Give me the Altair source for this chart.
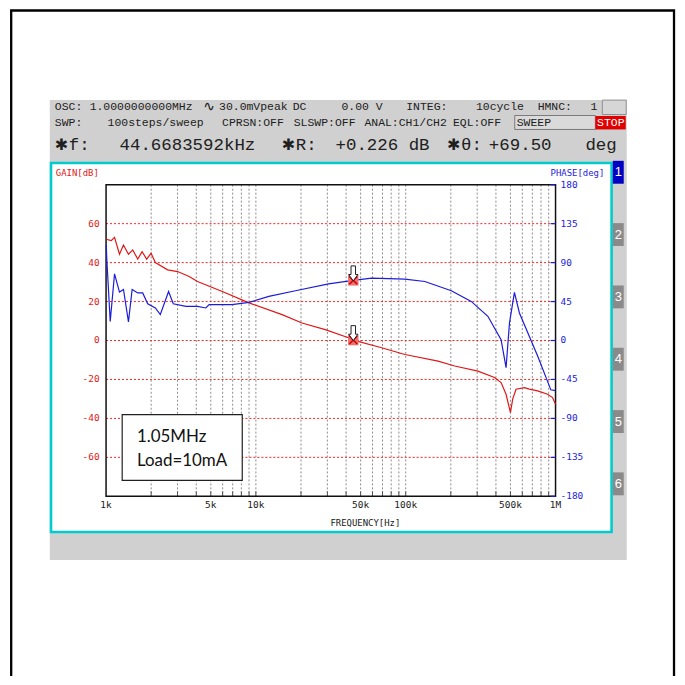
import altair as alt
import pandas as pd

# ---------------- data ----------------
gain_freq = [1003, 1083, 1139, 1229, 1307, 1411, 1507, 1627, 1740, 1866, 1997, 2133,
             2575, 3000, 3587, 4074, 5972, 8985, 14960, 20300, 29050, 41500, 44668,
             69060, 98790, 164400, 212300, 303200, 391500, 433000, 467500, 500000,
             518000, 544800, 619400, 668800, 759500, 884800, 955000, 1000000]
gain_db = [52, 51.3, 53, 44.3, 49, 44.3, 46.5, 41.8, 45.6, 41.8, 44.8, 40,
           36.3, 35.4, 32.9, 30.3, 25.2, 19.3, 13.3, 9, 5.6, 1.4, 0.226,
           -3.7, -7.2, -10.6, -13.1, -15.7, -19, -21.6, -27.6, -37,
           -30, -25, -24.2, -25, -25.9, -27.6, -29.3, -32.7]

phase_freq = [1003, 1012, 1066, 1139, 1229, 1307, 1411, 1493, 1627, 1756, 1896, 2133,
              2302, 2614, 2809, 3412, 4074, 4633, 4872, 6928, 8985, 12200, 18360,
              30550, 44668, 59270, 98790, 134200, 201600, 273600, 353400, 433000,
              467500, 492500, 531600, 574000, 759500, 930500, 1000000]
phase_deg = [110, 93, 22, 77, 56, 59, 21.5, 59, 55, 55, 42.5, 37.6,
             30, 56.7, 42.5, 39.5, 39.5, 37.6, 41.4, 41.4, 44, 51, 57.5,
             65.5, 69.5, 72, 71, 68.2, 57.5, 45.2, 28, 1,
             -31.4, 20, 55.6, 31.8, -18, -57, -58]

marker_freq = [44668.3592]
marker_gain = [0.226]
marker_phase = [69.50]

gain_ticks = [-60, -40, -20, 0, 20, 40, 60]
gain_labels = ["-60", "-40", "-20", "0", "20", "40", "60"]
phase_ticks = [-180, -135, -90, -45, 0, 45, 90, 135, 180]
phase_labels = ["-180", "-135", "-90", "-45", "0", "45", "90", "135", "180"]
grid_freqs = [2000, 3000, 4000, 5000, 6000, 7000, 8000, 9000, 10000,
              20000, 30000, 40000, 50000, 60000, 70000, 80000, 90000, 100000,
              200000, 300000, 400000, 500000, 600000, 700000, 800000, 900000]
xlabel_values = [1000, 5000, 10000, 50000, 100000, 500000, 1000000]
xlabel_text = ["1k", "5k", "10k", "50k", "100k", "500k", "1M"]

# ---------------- geometry ----------------
W, H = 451.5, 313
OX, OY = 106.5, 184   # page position of plot origin
MONO = "DejaVu Sans Mono"
HMONO = "Liberation Mono"
RED = "#e01818"
BLUE = "#1c1cdc"

xs = alt.Scale(type="log", domain=[1000, 1000000], nice=False)
gs = alt.Scale(domain=[-80, 80], nice=False, zero=False)
ps = alt.Scale(domain=[-180, 180], nice=False, zero=False)

ONE = alt.InlineData(values=[{}])


def box(x1, y1, x2, y2, **kw):
    return alt.Chart(ONE).mark_rect(**kw).encode(
        x=alt.value(x1 - OX), x2=alt.value(x2 - OX),
        y=alt.value(y1 - OY), y2=alt.value(y2 - OY))


def txt(x, y, s, size=11, color="#202020", font=HMONO, align="left", **kw):
    return alt.Chart(ONE).mark_text(
        text=s, fontSize=size, color=color, font=font, align=align,
        baseline="middle", **kw).encode(x=alt.value(x - OX), y=alt.value(y - OY))


df_gain = pd.DataFrame({"f": gain_freq, "g": gain_db})
df_phase = pd.DataFrame({"f": phase_freq, "p": phase_deg})
df_mg = pd.DataFrame({"f": marker_freq, "g": marker_gain})
df_mp = pd.DataFrame({"f": marker_freq, "p": marker_phase})
df_grid = pd.DataFrame({"f": grid_freqs})
df_gt = pd.DataFrame({"g": gain_ticks, "t": gain_labels})
df_pt = pd.DataFrame({"p": phase_ticks, "t": phase_labels})
df_xl = pd.DataFrame({"f": xlabel_values, "t": xlabel_text})

# ---------------- decorations ----------------
deco = [
    box(11.2, 9, 677, 720, fillOpacity=0, stroke="black", strokeWidth=2.3),
    box(50, 99, 629.5, 561, fill="#d0d0d0"),
    box(605, 99, 629, 113.5, fill="#d6d6d6", stroke="#909090", strokeWidth=1),
    box(517, 114.5, 598, 128.5, fill="#dadada", stroke="#7a7a7a", strokeWidth=1),
    box(598, 115, 628.5, 128.5, fill="#e00000"),
    box(51.2, 162.2, 614.3, 532.8, fill="white", stroke="#00cccc", strokeWidth=2.6),
]
for i in range(6):
    y0 = 160 + 62.6 * i
    deco.append(box(615.5, y0, 626.5, y0 + 23,
                    fill="#0000c4" if i == 0 else "#8a8a8a"))
    deco.append(txt(621, y0 + 11.5, str(i + 1), size=13, color="white",
                    font="Liberation Sans", align="center"))

row1 = [(55, "OSC:"), (90, "1.0000000000MHz"), (220, "30.0mVpeak"), (294, "DC"),
        (343, "0.00 V"), (408, "INTEG:"), (478, "10cycle"), (540, "HMNC:"), (593, "1")]
row2 = [(55, "SWP:"), (108, "100steps/sweep"), (223, "CPRSN:OFF"), (295, "SLSWP:OFF"),
        (366, "ANAL:CH1/CH2"), (455, "EQL:OFF")]
for x, s in row1:
    deco.append(txt(x, 106, s, size=11.5))
deco.append(txt(204, 106, "∿", size=14, font="DejaVu Sans"))
for x, s in row2:
    deco.append(txt(x, 122, s, size=11.5))
deco.append(txt(519, 122, "SWEEP", size=11.5))
deco.append(txt(613.5, 122, "STOP", size=11.5, color="white", align="center"))

row3 = [(69, "f:"), (120, "44.6683592kHz"), (297, "R:"), (337, "+0.226 dB"),
        (463, "θ:"), (491, "+69.50"), (588, "deg")]
for x, s in row3:
    deco.append(txt(x, 144.5, s, size=17.5))
for x in (55, 283, 449):
    deco.append(txt(x, 144.5, "✱", size=16, font="DejaVu Sans"))

deco.append(txt(56, 172, "GAIN[dB]", size=9, color=RED, font=MONO))
deco.append(txt(607, 172, "PHASE[deg]", size=9, color=BLUE, font=MONO, align="right"))
deco.append(txt(367, 524, "FREQUENCY[Hz]", size=9, color="#202020", font=MONO, align="center"))

# ---------------- plot layers ----------------
vgrid = alt.Chart(df_grid).mark_rule(color="#8a8a8a", strokeDash=[2, 2], strokeWidth=1).encode(
    x=alt.X("f:Q", scale=xs, axis=None), y=alt.value(0), y2=alt.value(H))
btick = alt.Chart(df_grid).mark_rule(color="#505050", strokeWidth=1).encode(
    x=alt.X("f:Q", scale=xs, axis=None), y=alt.value(H - 5), y2=alt.value(H))
hgrid = alt.Chart(df_gt).mark_rule(color="#ff2020", strokeDash=[2, 2], strokeWidth=1).encode(
    y=alt.Y("g:Q", scale=gs, axis=None), x=alt.value(0), x2=alt.value(W))
frame = alt.Chart(ONE).mark_rect(fillOpacity=0, stroke="#101010", strokeWidth=1.5).encode(
    x=alt.value(0), x2=alt.value(W), y=alt.value(0), y2=alt.value(H))

xlab = alt.Chart(df_xl).mark_text(font=MONO, fontSize=9.5, color="#202020",
                                   baseline="middle", align="center").encode(
    x=alt.X("f:Q", scale=xs, axis=None), y=alt.value(H + 9), text="t:N")
glab = alt.Chart(df_gt).mark_text(font=MONO, fontSize=9.5, color=RED,
                                   baseline="middle", align="right").encode(
    y=alt.Y("g:Q", scale=gs, axis=None), x=alt.value(-6.5), text="t:N")

gain_line = alt.Chart(df_gain).mark_line(color=RED, strokeWidth=1.2).encode(
    x=alt.X("f:Q", scale=xs, axis=None),
    y=alt.Y("g:Q", scale=gs, axis=None),
    order=alt.Order("f:Q"))

arrow_path = "M -0.3 -1 L 0.3 -1 L 0.3 0.15 L 0.62 0.15 L 0 1 L -0.62 0.15 L -0.3 0.15 Z"
x_path = "M -1 -1 L 1 1 M -1 1 L 1 -1"


def marker(df, field, scale):
    enc = dict(x=alt.X("f:Q", scale=xs, axis=None), y=alt.Y(f"{field}:Q", scale=scale, axis=None))
    sq = alt.Chart(df).mark_square(size=110, color="#f07070", opacity=1).encode(**enc)
    xx = alt.Chart(df).mark_point(shape=x_path, size=64, filled=False, color="#d00000",
                                  strokeWidth=1.5, opacity=1).encode(**enc)
    ar = alt.Chart(df).mark_point(shape=arrow_path, size=225, filled=True, fill="white",
                                  stroke="#202020", strokeWidth=1, opacity=1, yOffset=-7).encode(**enc)
    return [sq, xx, ar]


note = [
    box(122.7, 415, 243.3, 481, fill="white", stroke="#202020", strokeWidth=1.2),
    txt(137.5, 437, "1.05MHz", size=17, font="Lato", color="#111111"),
    txt(137.5, 462, "Load=10mA", size=17, font="Lato", color="#111111"),
]

gain_group = alt.layer(*deco, vgrid, hgrid, btick, *note, frame, xlab, glab, gain_line,
                       *marker(df_mg, "g", gs))

ptick = alt.Chart(df_pt).mark_rule(color=BLUE, strokeWidth=1.2).encode(
    y=alt.Y("p:Q", scale=ps, axis=None), x=alt.value(W - 5), x2=alt.value(W))
plab = alt.Chart(df_pt).mark_text(font=MONO, fontSize=9.5, color=BLUE,
                                   baseline="middle", align="left").encode(
    y=alt.Y("p:Q", scale=ps, axis=None), x=alt.value(W + 5), text="t:N")
phase_line = alt.Chart(df_phase).mark_line(color=BLUE, strokeWidth=1.2).encode(
    x=alt.X("f:Q", scale=xs, axis=None),
    y=alt.Y("p:Q", scale=ps, axis=None),
    order=alt.Order("f:Q"))

phase_group = alt.layer(ptick, plab, phase_line, *marker(df_mp, "p", ps))

chart = alt.layer(gain_group, phase_group).resolve_scale(y="independent").properties(
    width=W, height=H,
    autosize=alt.AutoSizeParams(type="none"),
    padding={"left": OX - 8, "top": OY - 8, "right": 122, "bottom": 179},
    background="white",
).configure_view(strokeWidth=0)

chart.save("out.html", embed_options={"renderer": "svg", "actions": False})
